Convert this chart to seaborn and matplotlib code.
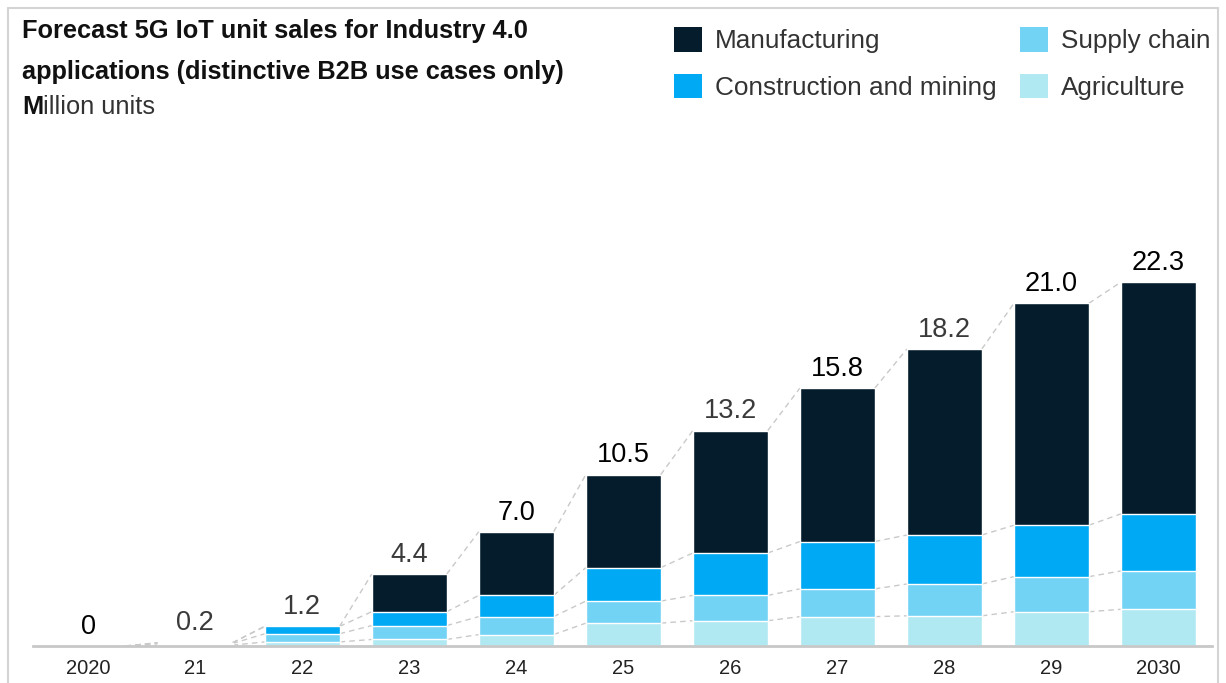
import numpy as np
import pandas as pd
import matplotlib
matplotlib.use("Agg")
import matplotlib.pyplot as plt
import seaborn as sns
from matplotlib.patches import Patch
from matplotlib.lines import Line2D

years = ["2020", "21", "22", "23", "24", "25", "26", "27", "28", "29", "2030"]
manufacturing = [0, 0, 0, 2.3, 3.9, 5.7, 7.5, 9.4, 11.4, 13.6, 14.2]
construction = [0, 0.05, 0.45, 0.85, 1.3, 2.05, 2.6, 2.9, 3.0, 3.15, 3.5]
supply_chain = [0, 0.1, 0.5, 0.85, 1.1, 1.35, 1.55, 1.7, 1.95, 2.15, 2.35]
agriculture = [0, 0.05, 0.25, 0.4, 0.7, 1.4, 1.55, 1.8, 1.85, 2.1, 2.25]
total_labels = ["0", "0.2", "1.2", "4.4", "7.0", "10.5", "13.2", "15.8", "18.2", "21.0", "22.3"]

colors = {
    "Manufacturing": "#051c2c",
    "Construction and mining": "#00a9f4",
    "Supply chain": "#72d3f4",
    "Agriculture": "#b1e9f3",
}
# labels drawn in black vs grey in the original
dark_label = [True, False, False, False, True, True, False, True, False, True, True]

sns.set_theme(style="white")
plt.rcParams["font.family"] = ["Liberation Sans", "DejaVu Sans"]

df = pd.DataFrame({
    "year": years,
    "agri": agriculture,
    "supply": supply_chain,
    "constr": construction,
    "manuf": manufacturing,
})
df["c1"] = df["agri"]
df["c2"] = df["c1"] + df["supply"]
df["c3"] = df["c2"] + df["constr"]
df["c4"] = df["c3"] + df["manuf"]

fig = plt.figure(figsize=(12.26, 6.83), dpi=100)
ax = fig.add_axes([33 / 1226, 37 / 683, 1179 / 1226, 24 * 16.32 / 683])

bar_w = 0.7
layers = [("c4", "Manufacturing"), ("c3", "Construction and mining"),
          ("c2", "Supply chain"), ("c1", "Agriculture")]
for col, name in layers:
    sns.barplot(data=df, x="year", y=col, order=years, color=colors[name],
                width=bar_w, errorbar=None, saturation=1, edgecolor="white",
                linewidth=1, ax=ax)

# dashed connectors between segment boundaries
for col in ["c1", "c2", "c3", "c4"]:
    vals = df[col].values
    for i in range(len(years) - 1):
        ax.plot([i + bar_w / 2, i + 1 - bar_w / 2], [vals[i], vals[i + 1]],
                color="#c9c9c9", lw=1, dashes=(4, 3), zorder=0.5)

for i, lab in enumerate(total_labels):
    ax.annotate(lab, (i, df["c4"].values[i]), xytext=(0, 4.5),
                textcoords="offset points", ha="center", va="bottom",
                fontsize=19.5, color="#000000" if dark_label[i] else "#3a3a3a")

ax.set_xlim(-0.514, 10.5)
ax.set_ylim(0, 24)
ax.set_xlabel("")
ax.set_ylabel("")
ax.set_yticks([])
for s in ["top", "right", "left"]:
    ax.spines[s].set_visible(False)
ax.spines["bottom"].set_color("#c8c8c8")
ax.spines["bottom"].set_linewidth(2)
ax.tick_params(axis="x", length=0, pad=9.5, labelsize=14.5, labelcolor="#222222")

# title block
fig.text(22 / 1226, 1 - 31 / 683, "Forecast 5G IoT unit sales for Industry 4.0",
         fontsize=18.3, fontweight="bold", va="center", ha="left", color="#111111")
fig.text(22 / 1226, 1 - 72 / 683, "applications (distinctive B2B use cases only)",
         fontsize=18.3, fontweight="bold", va="center", ha="left", color="#111111")
m = fig.text(22 / 1226, 1 - 107 / 683, "M", fontsize=18.3, fontweight="bold",
             va="center", ha="left", color="#111111")
ax.annotate("illion units", xy=(1, 0), xycoords=m, xytext=(0, 0),
            textcoords="offset points", ha="left", va="bottom",
            fontsize=18.3, color="#333333", annotation_clip=False)

names = ["Manufacturing", "Construction and mining", "Supply chain", "Agriculture"]
handles = [Patch(facecolor=colors[n], edgecolor="none") for n in names]
fig.legend(handles, names, ncol=2, loc="upper left",
           bbox_to_anchor=(674 / 1226, 1 - 27 / 683), frameon=False,
           fontsize=18.8, handlelength=1.07, handleheight=1.07,
           handletextpad=0.5, columnspacing=0.9, labelspacing=0.78,
           labelcolor="#333333", borderaxespad=0, borderpad=0)

# light frame around the chart
fc = "#d4d4d4"
fig.add_artist(Line2D([8 / 1226, 8 / 1226], [0, 1 - 8 / 683], color=fc, lw=1.5))
fig.add_artist(Line2D([8 / 1226, 1218 / 1226], [1 - 8 / 683, 1 - 8 / 683], color=fc, lw=1.5))
fig.add_artist(Line2D([1218 / 1226, 1218 / 1226], [0, 1 - 8 / 683], color=fc, lw=1.5))

fig.savefig("out.png", dpi=100)
